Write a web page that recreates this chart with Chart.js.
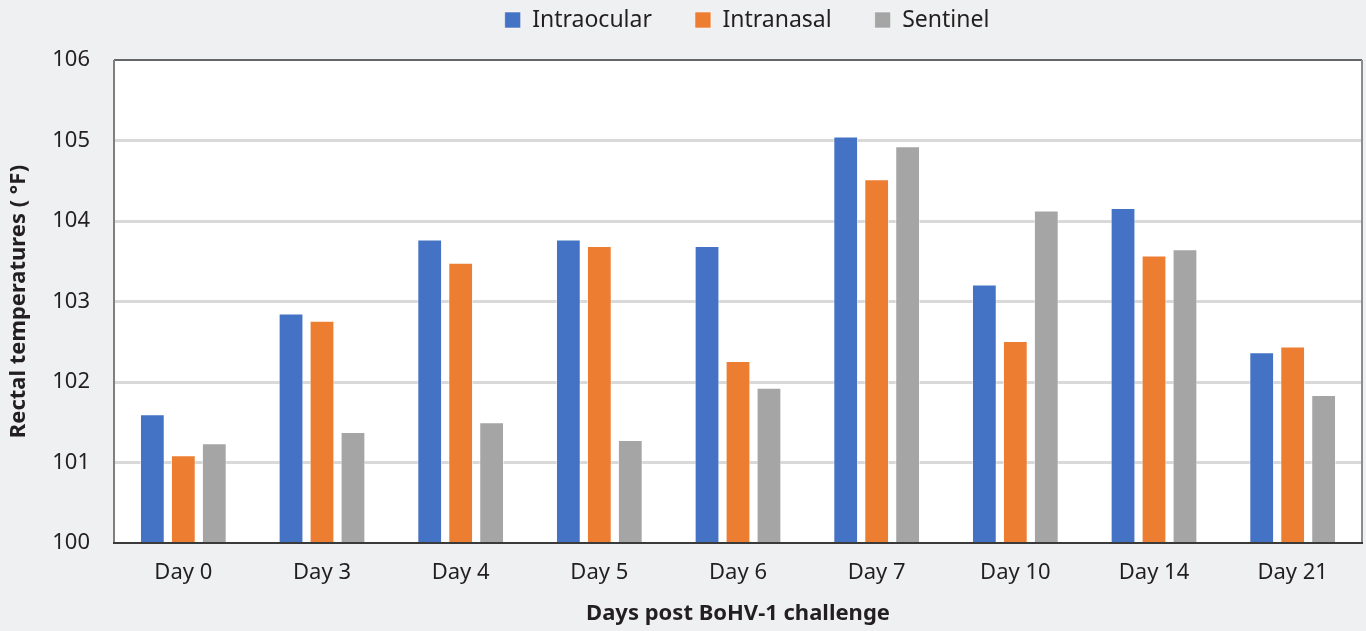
<!DOCTYPE html>
<html>
<head>
<meta charset="utf-8">
<script src="https://cdn.jsdelivr.net/npm/chart.js@4/dist/chart.umd.min.js"></script>
<style>
  html, body { margin: 0; padding: 0; background: #eff0f2; }
  canvas { display: block; }
</style>
</head>
<body>
<canvas id="chart" width="1366" height="631"></canvas>
<script>
// Rectal temperatures (°F) after BoHV-1 challenge, by group
const days = ['Day 0', 'Day 3', 'Day 4', 'Day 5', 'Day 6', 'Day 7', 'Day 10', 'Day 14', 'Day 21'];
const intraocular = [101.60, 102.85, 103.77, 103.77, 103.69, 105.05, 103.21, 104.16, 102.37];
const intranasal  = [101.09, 102.76, 103.48, 103.69, 102.26, 104.52, 102.51, 103.57, 102.44];
const sentinel    = [101.24, 101.38, 101.50, 101.28, 101.93, 104.93, 104.13, 103.65, 101.84];
const yTicks = [100, 101, 102, 103, 104, 105, 106];

const FONT = "'Noto Sans', 'Open Sans', sans-serif";
const TEXT = '#231f20';
const LEGEND_GAP = 43;      // space between legend entries
const LEGEND_HEIGHT = 56;   // band reserved above the plot
const LEGEND_MID_Y = 20;    // vertical centre of the legend row
const LEGEND_MID_X = 747;   // horizontal centre of the legend row

// White plot area with a framed border
const plotFrame = {
  id: 'plotFrame',
  beforeDraw(chart) {
    const { ctx, chartArea: a } = chart;
    ctx.save();
    ctx.fillStyle = '#ffffff';
    ctx.fillRect(a.left, a.top, a.right - a.left, a.bottom - a.top);
    ctx.restore();
  },
  afterDatasetsDraw(chart) {
    const { ctx, chartArea: a } = chart;
    ctx.save();
    ctx.lineWidth = 2;
    const seg = (x1, y1, x2, y2, c) => {
      ctx.strokeStyle = c;
      ctx.beginPath(); ctx.moveTo(x1, y1); ctx.lineTo(x2, y2); ctx.stroke();
    };
    seg(a.left, a.top, a.right, a.top, '#666666');
    seg(a.right, a.top, a.right, a.bottom, '#8c8c8c');
    seg(a.left, a.top, a.left, a.bottom, '#7f7f7f');
    seg(a.left - 1, a.bottom, a.right + 1, a.bottom, '#3a3a3a');
    ctx.restore();
  }
};

// Compact legend band with wide spacing between entries
const legendBand = {
  id: 'legendBand',
  beforeInit(chart) {
    const lg = chart.legend;
    if (!lg) return;
    const fit = lg.fit.bind(lg);
    lg.fit = function () { fit(); this.height = LEGEND_HEIGHT; };
  },
  afterLayout(chart) {
    const lg = chart.legend;
    if (!lg || !lg.lineWidths) return;
    const pad = lg.options.labels.padding;
    const itemH = Math.max(lg.options.labels.boxHeight, lg.options.labels.font.size);
    const dy = (LEGEND_MID_Y - itemH / 2 - pad) - lg.top;
    const lw = lg.lineWidths[0];
    const startNow = (lg.left + pad + lg.right - lw) / 2;
    const startWanted = LEGEND_MID_X - (lw - pad) / 2;
    const dx = startWanted - startNow;
    lg.top += dy;
    lg.height = lg.bottom - lg.top;
    lg.left += dx; lg.right += dx;
  }
};

const mk = (label, data, color) => ({
  label, data,
  backgroundColor: color,
  borderColor: 'rgba(255,255,255,0.55)',
  borderWidth: 1,
  borderSkipped: 'bottom',
  categoryPercentage: 0.67,
  barPercentage: 0.8
});

new Chart(document.getElementById('chart'), {
  type: 'bar',
  data: {
    labels: days,
    datasets: [
      mk('Intraocular', intraocular, '#4472c4'),
      mk('Intranasal', intranasal, '#ed7d31'),
      mk('Sentinel', sentinel, '#a5a5a5')
    ]
  },
  options: {
    responsive: false,
    animation: false,
    layout: { padding: { left: 6, right: 4, top: 4, bottom: 4 } },
    plugins: {
      tooltip: { enabled: false },
      legend: {
        position: 'top',
        labels: {
          boxWidth: 16, boxHeight: 16, padding: LEGEND_GAP,
          color: TEXT,
          font: { family: FONT, size: 23 }
        }
      }
    },
    scales: {
      x: {
        afterFit(scale) { scale.height = 84; },
        grid: { display: false, drawTicks: false },
        border: { display: false },
        ticks: { color: TEXT, font: { family: FONT, size: 22 }, padding: 17 },
        title: {
          display: true, text: 'Days post BoHV-1 challenge', color: TEXT,
          font: { family: FONT, size: 22, weight: 'bold' }, padding: { top: 0, bottom: 0 }
        }
      },
      y: {
        min: 100, max: 106,
        afterBuildTicks(scale) { scale.ticks = yTicks.map(v => ({ value: v })); },
        afterFit(scale) { scale.width = 108; },
        grid: {
          color: ctx => (ctx.tick && (ctx.tick.value === 100 || ctx.tick.value === 106)) ? 'rgba(0,0,0,0)' : '#d9d9d9',
          lineWidth: 3, drawTicks: false
        },
        border: { display: false },
        ticks: { color: TEXT, font: { family: FONT, size: 22 }, padding: 24 },
        title: {
          display: true, text: 'Rectal temperatures ( °F)', color: TEXT,
          font: { family: FONT, size: 22, weight: 'bold' }, padding: { top: 0, bottom: 0 }
        }
      }
    }
  },
  plugins: [plotFrame, legendBand]
});
</script>
</body>
</html>
